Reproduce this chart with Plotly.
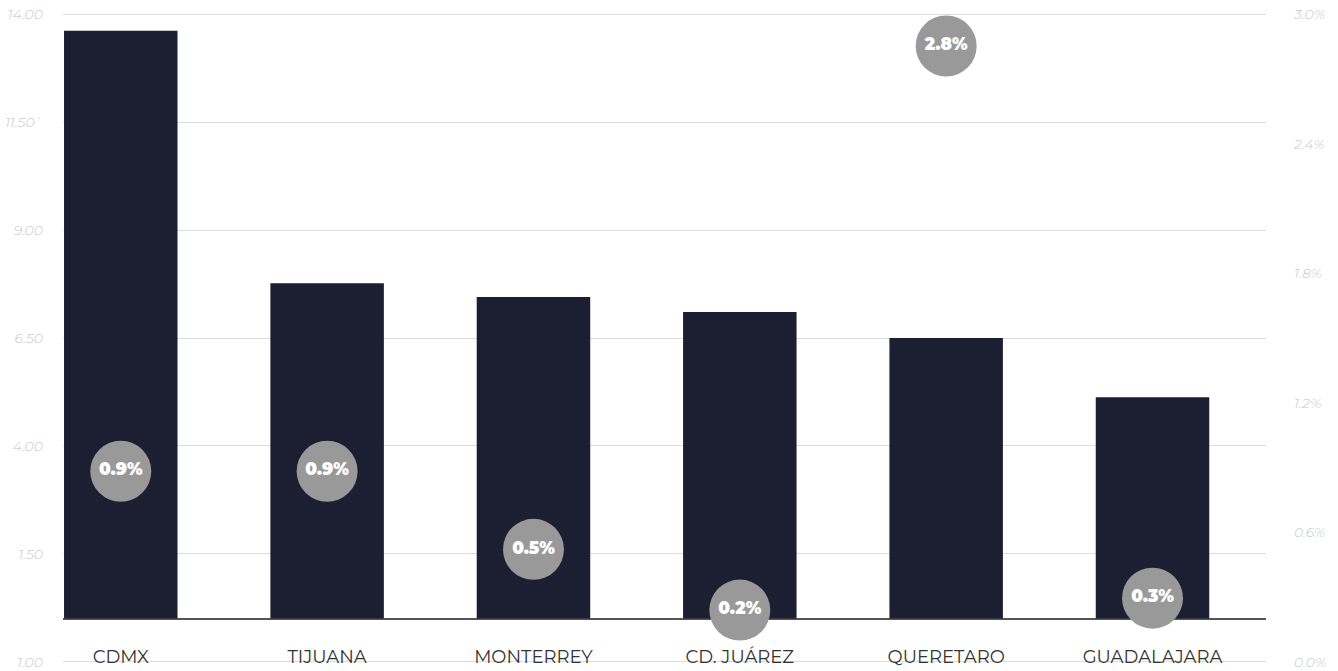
import plotly.graph_objects as go

cities = ["CDMX", "TIJUANA", "MONTERREY", "CD. JUÁREZ", "QUERETARO", "GUADALAJARA"]
bar_values = [13.62, 7.77, 7.45, 7.10, 6.50, 5.13]
bubble_values = [0.84, 0.84, 0.48, 0.20, 2.80, 0.255]
bubble_labels = ["0.9%", "0.9%", "0.5%", "0.2%", "2.8%", "0.3%"]

left_tickvals = [14, 11.5, 9, 6.5, 4, 1.5, -1]
left_ticktext = ["14.00", "11.50`", "9.00", "6.50", "4.00", "1.50", "1.00"]
right_tickvals = [0, 0.6, 1.2, 1.8, 2.4, 3.0]
right_ticktext = ["0.0%", "0.6%", "1.2%", "1.8%", "2.4%", "3.0%"]

FONT = "Montserrat, Lato, Open Sans, sans-serif"

fig = go.Figure()
fig.add_trace(go.Bar(
    x=cities, y=bar_values, width=0.55,
    marker=dict(color="#1b1f31", line=dict(width=0)),
    yaxis="y", hoverinfo="skip", showlegend=False,
))
fig.add_trace(go.Scatter(
    x=cities, y=[None]*len(cities), yaxis="y2", showlegend=False, hoverinfo="skip",
))
fig.add_trace(go.Scatter(
    x=cities, y=bubble_values, yaxis="y3", mode="markers+text",
    text=bubble_labels, textposition="middle center",
    textfont=dict(family=FONT, size=17, color="white", weight=900),
    marker=dict(size=61, color="#999999", line=dict(width=0)),
    showlegend=False, hoverinfo="skip",
))

fig.update_layout(
    width=1338, height=671,
    margin=dict(l=63, r=72, t=13, b=8, autoexpand=False),
    plot_bgcolor="white", paper_bgcolor="white",
    xaxis=dict(
        type="category", range=[-0.28, 5.55], automargin=False,
        showgrid=False, showline=False, zeroline=False,
        ticks="", ticklabelposition="inside", ticklabelstandoff=-7,
        ticklabeloverflow="allow",
        tickfont=dict(family=FONT, size=18, color="#333333"),
    ),
    yaxis=dict(
        range=[-1.03, 14.03], tickvals=left_tickvals, ticktext=left_ticktext,
        automargin=False, ticklabeloverflow="allow",
        showgrid=True, gridcolor="#dcdcdc", gridwidth=1,
        zeroline=True, zerolinecolor="#555555", zerolinewidth=2,
        showline=False, ticks="", ticklabelstandoff=19,
        tickfont=dict(family=FONT, size=14, color="#c8c8c8", style="italic", weight=300),
    ),
    yaxis2=dict(
        range=[-0.005, 3.005], tickvals=right_tickvals, ticktext=right_ticktext,
        automargin=False, ticklabeloverflow="allow",
        overlaying="y", side="right", showgrid=False, zeroline=False,
        showline=False, ticks="", ticklabelstandoff=27,
        tickfont=dict(family=FONT, size=14, color="#c8c8c8", style="italic", weight=300),
    ),
    yaxis3=dict(
        range=[-0.044, 2.952], overlaying="y", visible=False,
        showgrid=False, zeroline=False,
    ),
)

fig.write_html(
    "out.html",
    config={"displayModeBar": False},
    post_script="document.body.style.margin='0';",
)
